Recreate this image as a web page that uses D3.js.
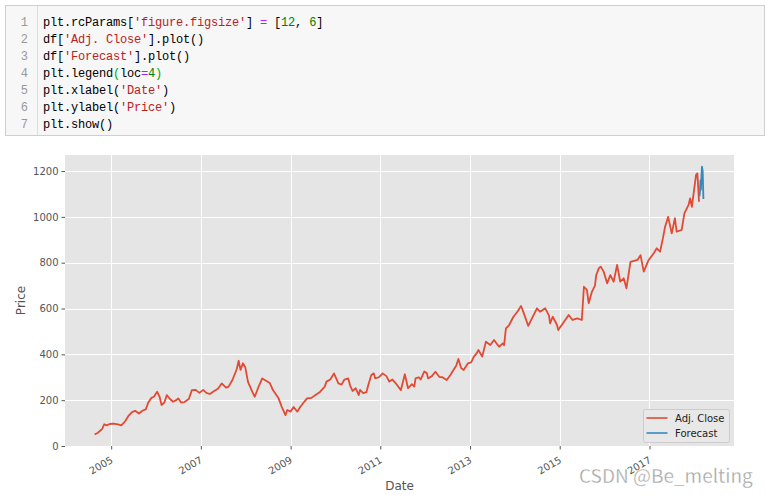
<!DOCTYPE html>
<html><head><meta charset="utf-8">
<script src="https://cdn.jsdelivr.net/npm/d3@7"></script>
<style>body{margin:0;background:#fff;} svg{display:block;}</style>
</head><body>
<svg id="c" width="766" height="497"></svg>
<script>
// ---------------- data ----------------
const adjDates = [
"2004-08-19","2004-09-15","2004-10-20","2004-11-05","2004-11-25","2004-12-20",
"2005-01-20","2005-02-25","2005-03-25","2005-04-25","2005-05-20","2005-06-20","2005-07-15","2005-08-15","2005-09-15","2005-10-10","2005-10-30","2005-11-25","2005-12-15",
"2006-01-10","2006-01-30","2006-02-15","2006-03-10","2006-03-30","2006-04-25","2006-05-20","2006-06-15","2006-07-01","2006-07-25","2006-08-20","2006-09-25","2006-10-20","2006-11-20","2006-12-20",
"2007-01-20","2007-02-15","2007-03-15","2007-04-20","2007-05-20","2007-06-20","2007-07-25","2007-08-15","2007-09-15","2007-10-20","2007-11-05","2007-11-20","2007-12-10","2007-12-28",
"2008-01-20","2008-02-25","2008-03-15","2008-04-20","2008-05-15","2008-06-15","2008-07-15","2008-08-10","2008-09-25","2008-10-20","2008-11-20","2008-12-05","2008-12-31",
"2009-01-25","2009-02-25","2009-03-20","2009-04-25","2009-05-15","2009-06-20","2009-07-20","2009-08-30","2009-10-05","2009-10-20","2009-11-20","2009-12-20",
"2010-01-25","2010-02-20","2010-03-15","2010-04-15","2010-04-30","2010-05-20","2010-06-15","2010-07-10","2010-07-20","2010-08-15","2010-09-10","2010-09-25","2010-10-20","2010-11-10","2010-11-20","2010-12-20",
"2011-01-20","2011-02-20","2011-03-15","2011-04-10","2011-05-08","2011-06-18","2011-07-20","2011-08-15","2011-09-15","2011-10-05","2011-10-15","2011-11-10","2011-11-25","2011-12-25",
"2012-01-15","2012-01-25","2012-02-25","2012-03-25","2012-04-25","2012-05-20","2012-06-25","2012-07-25","2012-08-10","2012-09-10","2012-09-28","2012-10-20","2012-11-10","2012-12-15",
"2013-01-10","2013-02-01","2013-02-25","2013-03-10","2013-04-10","2013-05-10","2013-06-15","2013-07-15","2013-08-25","2013-09-25","2013-10-05","2013-10-20","2013-11-15","2013-12-20",
"2014-01-20","2014-02-20","2014-03-15","2014-04-20","2014-05-20","2014-06-30","2014-07-25","2014-09-05","2014-10-05","2014-10-15","2014-11-05","2014-12-10","2014-12-20",
"2015-02-05","2015-03-15","2015-04-15","2015-05-25","2015-06-30","2015-07-17","2015-08-10","2015-08-25","2015-09-20","2015-10-15","2015-10-25","2015-11-15","2015-11-30","2015-12-25",
"2016-01-22","2016-02-17","2016-03-15","2016-04-12","2016-05-08","2016-06-05","2016-06-27","2016-07-30","2016-09-25","2016-10-20","2016-11-15","2016-12-25",
"2017-02-05","2017-03-01","2017-03-28","2017-04-20","2017-05-08","2017-06-02","2017-07-01","2017-07-27","2017-08-10","2017-09-20","2017-10-12","2017-11-15","2017-11-28","2017-12-12",
"2018-01-15","2018-01-26","2018-02-08"
];
const adjClose = [
50,58,75,95,90,96,
98,94,90,108,130,148,154,142,155,160,190,210,215,
237,215,179,190,222,205,193,200,208,189,192,205,244,245,232,
245,232,227,240,250,273,255,259,288,335,372,332,361,345,
280,235,215,265,295,285,275,244,208,172,135,157,150,
170,150,170,195,208,210,222,237,258,281,290,317,
273,268,290,295,265,240,252,222,245,231,235,265,310,317,295,300,
317,305,281,290,273,244,313,252,270,259,295,300,290,325,
318,295,305,324,302,300,288,310,324,350,380,340,332,361,
365,390,405,419,390,455,441,463,433,448,440,513,528,564,
585,611,579,524,557,601,586,601,570,535,564,528,506,
542,572,550,557,550,695,681,623,673,700,746,775,783,761,
710,746,717,790,717,732,688,804,812,833,761,812,
841,863,848,906,957,1000,928,994,935,943,1015,1052,1081,1044,
1183,1190,1066
];
const fcDates = ["2018-02-12","2018-02-16","2018-02-20","2018-02-24","2018-02-28","2018-03-04","2018-03-10","2018-03-16"];
const fcValues = [1090,1110,1160,1120,1180,1219,1200,1078];

const yTickValues = [0,200,400,600,800,1000,1200];
const xTickYears = [2005,2007,2009,2011,2013,2015,2017];
const seriesNames = ["Adj. Close","Forecast"];
const seriesColors = ["#E24A33","#348ABD"];

const codeLines = [
  [["plt.rcParams[","#000"],["'figure.figsize'","#ba2121"],["] ","#000"],["=","#aa22ff"],[" [","#000"],["12","#008000"],[", ","#000"],["6","#008000"],["]","#000"]],
  [["df[","#000"],["'Adj. Close'","#ba2121"],["].plot()","#000"]],
  [["df[","#000"],["'Forecast'","#ba2121"],["].plot()","#000"]],
  [["plt.legend","#000"],["(","#00aa00"],["loc","#000"],["=","#aa22ff"],["4","#008000"],[")","#00aa00"]],
  [["plt.xlabel(","#000"],["'Date'","#ba2121"],[")","#000"]],
  [["plt.ylabel(","#000"],["'Price'","#ba2121"],[")","#000"]],
  [["plt.show()","#000"]]
];

// ---------------- drawing ----------------
const svg = d3.select("#c");
const parse = d3.utcParse("%Y-%m-%d");

// code cell
svg.append("rect").attr("x",5.5).attr("y",5.5).attr("width",759).attr("height",130)
  .attr("fill","#f7f7f7").attr("stroke","#cfcfcf");
svg.append("line").attr("x1",37.5).attr("x2",37.5).attr("y1",6).attr("y2",135).attr("stroke","#dddddd");
codeLines.forEach((toks,i)=>{
  const yb = 26 + i*17;
  svg.append("text").attr("x",28).attr("y",yb).attr("text-anchor","end")
    .attr("font-family","Liberation Mono, DejaVu Sans Mono, monospace").attr("font-size",12)
    .attr("fill","#999").text(i+1);
  const t = svg.append("text").attr("x",43).attr("y",yb)
    .attr("font-family","Liberation Mono, DejaVu Sans Mono, monospace").attr("font-size",12)
    .attr("letter-spacing","-0.2").attr("xml:space","preserve").style("white-space","pre");
  toks.forEach(([s,c])=> t.append("tspan").attr("fill",c).text(s));
});

// chart
const L=65, R=734, T=155, B=446;
const x = d3.scaleUtc().domain([parse("2003-12-22"), parse("2018-11-20")]).range([L,R]);
const y = d3.scaleLinear().domain([0,1270]).range([B,T]);

svg.append("rect").attr("x",L).attr("y",T).attr("width",R-L).attr("height",B-T).attr("fill","#E5E5E5");

const xTicks = xTickYears.map(yr=>new Date(Date.UTC(yr,0,1)));
const g = svg.append("g");
g.selectAll(".gx").data(xTicks).join("line")
  .attr("x1",d=>Math.round(x(d))+0.5).attr("x2",d=>Math.round(x(d))+0.5)
  .attr("y1",T).attr("y2",B).attr("stroke","#fff").attr("stroke-width",1);
g.selectAll(".gy").data(yTickValues).join("line")
  .attr("y1",d=>Math.round(y(d))+0.5).attr("y2",d=>Math.round(y(d))+0.5)
  .attr("x1",L).attr("x2",R).attr("stroke","#fff").attr("stroke-width",1);

// axes
const yAxis = d3.axisLeft(y).tickValues(yTickValues).tickSize(3.5).tickPadding(3).tickFormat(d3.format("d"));
const ya = svg.append("g").attr("transform",`translate(${L},0)`).call(yAxis);
ya.select(".domain").remove();
ya.selectAll("line").attr("stroke","#555");
ya.selectAll("text").attr("fill","#555").attr("font-family","DejaVu Sans").attr("font-size",10);

const xAxis = d3.axisBottom(x).tickValues(xTicks).tickSize(3.5).tickFormat(d3.utcFormat("%Y"));
const xa = svg.append("g").attr("transform",`translate(0,${B})`).call(xAxis);
xa.select(".domain").remove();
xa.selectAll("line").attr("stroke","#555");
xa.selectAll("text").attr("fill","#555").attr("font-family","DejaVu Sans").attr("font-size",10)
  .attr("text-anchor","end").attr("y",0).attr("dy",0)
  .attr("transform","translate(2,16) rotate(-30)");

// lines
const line = d3.line().x(d=>x(d[0])).y(d=>y(d[1]));
const adjData = adjDates.map((d,i)=>[parse(d),adjClose[i]]);
const fcData = fcDates.map((d,i)=>[parse(d),fcValues[i]]);
svg.append("path").datum(adjData).attr("d",line).attr("fill","none")
  .attr("stroke",seriesColors[0]).attr("stroke-width",1.8).attr("stroke-linejoin","round");
svg.append("path").datum(fcData).attr("d",line).attr("fill","none")
  .attr("stroke",seriesColors[1]).attr("stroke-width",1.8).attr("stroke-linejoin","round");

// labels
svg.append("text").attr("x",(L+R)/2).attr("y",490).attr("text-anchor","middle")
  .attr("font-family","DejaVu Sans").attr("font-size",12).attr("fill","#555").text("Date");
svg.append("text").attr("transform",`translate(25,${(T+B)/2}) rotate(-90)`).attr("text-anchor","middle")
  .attr("font-family","DejaVu Sans").attr("font-size",12).attr("fill","#555").text("Price");

// legend
const lg = svg.append("g").attr("transform","translate(643.5,409.5)");
lg.append("rect").attr("width",86).attr("height",33).attr("rx",2)
  .attr("fill","#E8E8E8").attr("stroke","#CCCCCC").attr("stroke-width",1);
seriesNames.forEach((n,i)=>{
  lg.append("line").attr("x1",3).attr("x2",24).attr("y1",8.5+i*15).attr("y2",8.5+i*15)
    .attr("stroke",seriesColors[i]).attr("stroke-width",1.6);
  lg.append("text").attr("x",31.5).attr("y",12+i*15).attr("font-family","DejaVu Sans")
    .attr("font-size",10).attr("fill","#222").text(n);
});

// watermark
svg.append("text").attr("x",579).attr("y",483).attr("font-family","Noto Sans CJK SC, Noto Sans, sans-serif")
  .attr("font-size",19).attr("fill","#a6a6a6").attr("stroke","#ffffff").attr("stroke-width",0.3)
  .text("CSDN @Be_melting");
</script>
</body></html>
